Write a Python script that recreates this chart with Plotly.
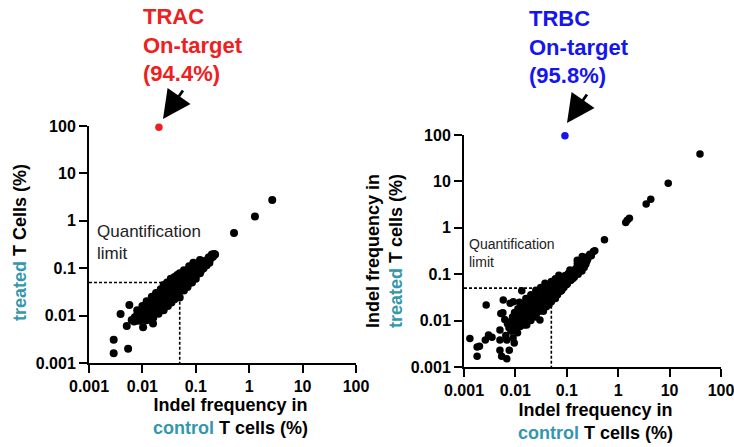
import plotly.graph_objects as go

# ---------------- data ----------------
tick_vals = [0.001, 0.01, 0.1, 1, 10, 100]
tick_text = ["0.001", "0.01", "0.1", "1", "10", "100"]

limit_x = [0.001, 0.05, 0.05]
limit_y = [0.05, 0.05, 0.001]

# TRAC (left panel): control vs treated indel frequency (%)
trac_x = [0.0029, 0.0029, 0.0054, 0.0039, 0.0057, 0.0051, 0.0103, 0.0158, 0.52, 1.28, 2.7,
          0.0063, 0.0070, 0.0072, 0.0078, 0.0080, 0.0085, 0.0088, 0.0090, 0.0095, 0.0098,
          0.0100, 0.0102, 0.0105, 0.0108, 0.0110, 0.0115, 0.0118, 0.0120, 0.0125, 0.0128,
          0.0130, 0.0135, 0.0138, 0.0140, 0.0145, 0.0148, 0.0150, 0.0155, 0.0160, 0.0162,
          0.0165, 0.0170, 0.0172, 0.0175, 0.0180, 0.0182, 0.0185, 0.0190, 0.0195, 0.0200,
          0.0202, 0.0205, 0.0210, 0.0215, 0.0220, 0.0225, 0.0230, 0.0235, 0.0240, 0.0245,
          0.0250, 0.0255, 0.0260, 0.0265, 0.0270, 0.0275, 0.0280, 0.0290, 0.0295, 0.0300,
          0.0305, 0.0310, 0.0320, 0.0325, 0.0330, 0.0340, 0.0345, 0.0355, 0.0360, 0.0370,
          0.0380, 0.0385, 0.0395, 0.0400, 0.0410, 0.0420, 0.0430, 0.0440, 0.0450, 0.0460,
          0.0470, 0.0480, 0.0490, 0.0500, 0.0520, 0.0530, 0.0545, 0.0560, 0.0575, 0.0590,
          0.0600, 0.0620, 0.0640, 0.0660, 0.0680, 0.0700, 0.0720, 0.0740, 0.0760, 0.0790,
          0.0810, 0.0840, 0.0870, 0.0900, 0.0930, 0.0960, 0.1000, 0.1030, 0.1070, 0.1100,
          0.1150, 0.1200, 0.1250, 0.1300, 0.1350, 0.1400, 0.1500, 0.1550, 0.1600, 0.1700,
          0.1750, 0.1800, 0.1900, 0.2000, 0.2100, 0.2200, 0.2300,
          0.0290, 0.0500, 0.0500, 0.1200, 0.1200, 0.0340, 0.0260, 0.0440,
          0.0120, 0.0150, 0.0180, 0.0220, 0.0250, 0.0200, 0.0250, 0.0300, 0.0350, 0.0400,
          0.0450, 0.0600, 0.0700, 0.0400, 0.0450, 0.0600, 0.0750, 0.0900, 0.0850, 0.1000,
          0.0100, 0.0080, 0.0120, 0.0160]
trac_y = [0.0031, 0.0016, 0.0020, 0.0108, 0.0168, 0.0060, 0.0057, 0.0068, 0.55, 1.23, 2.75,
          0.0081, 0.0075, 0.0092, 0.0085, 0.0105, 0.0078, 0.0098, 0.0120, 0.0090, 0.0110,
          0.0135, 0.0082, 0.0100, 0.0125, 0.0150, 0.0092, 0.0115, 0.0140, 0.0105, 0.0165,
          0.0125, 0.0095, 0.0150, 0.0115, 0.0180, 0.0135, 0.0105, 0.0160, 0.0125, 0.0200,
          0.0145, 0.0110, 0.0175, 0.0135, 0.0220, 0.0155, 0.0125, 0.0190, 0.0145, 0.0250,
          0.0170, 0.0130, 0.0210, 0.0160, 0.0280, 0.0185, 0.0145, 0.0235, 0.0175, 0.0320,
          0.0205, 0.0160, 0.0260, 0.0190, 0.0370, 0.0230, 0.0175, 0.0290, 0.0215, 0.0420,
          0.0255, 0.0195, 0.0330, 0.0240, 0.0470, 0.0285, 0.0220, 0.0380, 0.0265, 0.0520,
          0.0320, 0.0250, 0.0430, 0.0300, 0.0560, 0.0360, 0.0280, 0.0480, 0.0340, 0.0600,
          0.0400, 0.0310, 0.0520, 0.0380, 0.0650, 0.0450, 0.0360, 0.0570, 0.0430, 0.0700,
          0.0500, 0.0410, 0.0620, 0.0480, 0.0750, 0.0560, 0.0460, 0.0680, 0.0530, 0.0820,
          0.0620, 0.0520, 0.0750, 0.0600, 0.0900, 0.0700, 0.0600, 0.0830, 0.1000, 0.0780,
          0.0920, 0.1100, 0.0880, 0.1050, 0.1250, 0.1000, 0.1200, 0.1450, 0.1150, 0.1400,
          0.1700, 0.1300, 0.1600, 0.1950, 0.1750, 0.2000, 0.1950,
          0.0500, 0.0240, 0.0780, 0.1490, 0.0780, 0.0600, 0.0420, 0.0270,
          0.0200, 0.0250, 0.0300, 0.0360, 0.0440, 0.0110, 0.0130, 0.0160, 0.0190, 0.0220,
          0.0250, 0.0340, 0.0400, 0.0650, 0.0720, 0.0900, 0.1100, 0.1300, 0.0500, 0.0700,
          0.0160, 0.0130, 0.0080, 0.0090]
trac_on_x = [0.0204]
trac_on_y = [94.4]

# TRBC (right panel)
trbc_x = [0.0013, 0.0018, 0.0020, 0.0026, 0.0030, 0.0035, 0.0027, 0.0050, 0.0054, 0.0068,
          0.0076, 0.0058, 0.0057, 0.0050, 0.0050, 0.0079, 0.0133, 0.0300, 0.0091, 0.0018,
          0.0052, 0.0062, 0.0070, 0.0065, 0.0082, 0.0090, 0.0110, 0.0095, 0.0068, 0.0166,
          0.54, 1.40, 1.50, 1.65, 3.5, 4.3, 9.4, 39.0,
          0.0075, 0.0080, 0.0085, 0.0088, 0.0092, 0.0096, 0.0100, 0.0104, 0.0108, 0.0112,
          0.0115, 0.0120, 0.0124, 0.0128, 0.0132, 0.0136, 0.0140, 0.0145, 0.0150, 0.0155,
          0.0160, 0.0165, 0.0170, 0.0175, 0.0180, 0.0185, 0.0190, 0.0196, 0.0200, 0.0206,
          0.0212, 0.0218, 0.0224, 0.0230, 0.0236, 0.0242, 0.0248, 0.0255, 0.0262, 0.0270,
          0.0278, 0.0286, 0.0294, 0.0302, 0.0310, 0.0318, 0.0326, 0.0335, 0.0345, 0.0355,
          0.0365, 0.0375, 0.0385, 0.0395, 0.0405, 0.0415, 0.0425, 0.0435, 0.0448, 0.0460,
          0.0472, 0.0485, 0.0500, 0.0515, 0.0530, 0.0545, 0.0560, 0.0575, 0.0590, 0.0610,
          0.0625, 0.0640, 0.0660, 0.0680, 0.0700, 0.0720, 0.0740, 0.0760, 0.0785, 0.0810,
          0.0830, 0.0855, 0.0880, 0.0905, 0.0930, 0.0960, 0.0990, 0.1020, 0.1050, 0.1080,
          0.1110, 0.1150, 0.1190, 0.1230, 0.1270, 0.1310, 0.1360, 0.1400, 0.1450, 0.1500,
          0.1550, 0.1600, 0.1660, 0.1720, 0.1780, 0.1840, 0.1900, 0.1970, 0.2040, 0.2110,
          0.2180, 0.2250, 0.2350, 0.2450, 0.2550, 0.2600, 0.2100, 0.1600, 0.3300, 0.3500,
          0.0377, 0.1150,
          0.0120, 0.0160, 0.0200, 0.0250, 0.0150, 0.0200, 0.0250, 0.0350, 0.0400, 0.0450,
          0.0600, 0.0500, 0.0600, 0.0700, 0.0800, 0.1000, 0.1300, 0.1600, 0.2000, 0.2800,
          0.3000]
trbc_y = [0.0041, 0.0017, 0.0028, 0.0038, 0.0049, 0.0044, 0.0217, 0.0023, 0.0017, 0.0015,
          0.0023, 0.0278, 0.0148, 0.0063, 0.0038, 0.0236, 0.0440, 0.0103, 0.0255, 0.0027,
          0.0143, 0.0105, 0.0085, 0.0048, 0.0060, 0.0042, 0.0055, 0.0033, 0.0038, 0.0080,
          0.55, 1.30, 1.45, 1.60, 3.26, 4.1, 9.1, 39.0,
          0.0070, 0.0095, 0.0060, 0.0120, 0.0080, 0.0150, 0.0100, 0.0070, 0.0130, 0.0180,
          0.0090, 0.0115, 0.0075, 0.0150, 0.0210, 0.0100, 0.0130, 0.0085, 0.0170, 0.0240,
          0.0115, 0.0145, 0.0095, 0.0195, 0.0270, 0.0130, 0.0165, 0.0110, 0.0220, 0.0300,
          0.0150, 0.0185, 0.0125, 0.0250, 0.0340, 0.0170, 0.0210, 0.0140, 0.0280, 0.0380,
          0.0195, 0.0235, 0.0160, 0.0310, 0.0520, 0.0225, 0.0265, 0.0180, 0.0350, 0.0460,
          0.0255, 0.0300, 0.0205, 0.0390, 0.0530, 0.0290, 0.0340, 0.0230, 0.0440, 0.0580,
          0.0330, 0.0380, 0.0255, 0.0490, 0.0640, 0.0370, 0.0430, 0.0300, 0.0550, 0.0700,
          0.0420, 0.0490, 0.0360, 0.0610, 0.0770, 0.0480, 0.0560, 0.0430, 0.0680, 0.0850,
          0.0560, 0.0640, 0.0520, 0.0760, 0.0940, 0.0650, 0.0740, 0.0620, 0.0860, 0.1050,
          0.0760, 0.0860, 0.0730, 0.0980, 0.1180, 0.0880, 0.1000, 0.0860, 0.1120, 0.1320,
          0.1020, 0.1150, 0.1000, 0.1280, 0.1500, 0.1200, 0.1320, 0.1170, 0.1480, 0.1700,
          0.1400, 0.1550, 0.1650, 0.1900, 0.2100, 0.2400, 0.2200, 0.1700, 0.3100, 0.3200,
          0.0640, 0.1230,
          0.0250, 0.0300, 0.0360, 0.0450, 0.0080, 0.0100, 0.0120, 0.0160, 0.0200, 0.0220,
          0.0300, 0.0700, 0.0800, 0.0950, 0.0450, 0.0600, 0.0800, 0.2000, 0.2400, 0.2700,
          0.2500]
trbc_on_x = [0.092]
trbc_on_y = [95.8]

# ---------------- styling ----------------
FONT = "Liberation Sans, Arial, sans-serif"
TEAL = "#3497ad"
RED = "#ee2020"
BLUE = "#1515f0"
W, H = 734, 447


def px(x):
    return x / W


def py(y):
    return 1 - y / H


fig = go.Figure()

for xa, ya, xs, ys, ox, oy, oc, ms in [
    ("x", "y", trac_x, trac_y, trac_on_x, trac_on_y, RED, 8),
    ("x2", "y2", trbc_x, trbc_y, trbc_on_x, trbc_on_y, BLUE, 7.5),
]:
    fig.add_trace(go.Scatter(x=limit_x, y=limit_y, mode="lines", xaxis=xa, yaxis=ya,
                             line=dict(color="black", width=1.6, dash="3px,2px"),
                             hoverinfo="skip"))
    fig.add_trace(go.Scatter(x=xs, y=ys, mode="markers", xaxis=xa, yaxis=ya,
                             marker=dict(color="black", size=ms, line=dict(width=0))))
    fig.add_trace(go.Scatter(x=ox, y=oy, mode="markers", xaxis=xa, yaxis=ya,
                             marker=dict(color=oc, size=7.5, line=dict(width=0)),
                             cliponaxis=False))

axis_common = dict(
    type="log", range=[-3, 2], showline=True, linecolor="black", linewidth=2,
    ticks="outside", ticklen=8, tickwidth=2, tickcolor="black", automargin=False,
    showgrid=False, zeroline=False, tickvals=tick_vals, ticktext=tick_text,
    ticklabeloverflow="allow",
    tickfont=dict(family=FONT, size=16, color="black", weight="bold"),
)

fig.update_layout(
    template="none",
    width=W, height=H, margin=dict(l=0, r=0, t=0, b=0, pad=0, autoexpand=False),
    paper_bgcolor="white", plot_bgcolor="white", showlegend=False,
    xaxis=dict(axis_common, domain=[px(89), px(356)], anchor="y"),
    yaxis=dict(axis_common, domain=[py(363), py(126)], anchor="x"),
    xaxis2=dict(axis_common, domain=[px(464), px(721)], anchor="y2"),
    yaxis2=dict(axis_common, domain=[py(367), py(135)], anchor="x2"),
)

ann = []
# titles
ann.append(dict(x=px(141), y=py(2), xref="paper", yref="paper", xanchor="left", yanchor="top",
                align="left", showarrow=False,
                text="<b>TRAC<br>On-target<br>(94.4%)</b>",
                font=dict(family=FONT, size=22, color=RED)))
ann.append(dict(x=px(527), y=py(4), xref="paper", yref="paper", xanchor="left", yanchor="top",
                align="left", showarrow=False,
                text="<b>TRBC<br>On-target<br>(95.8%)</b>",
                font=dict(family=FONT, size=22, color=BLUE)))
# arrows
ann.append(dict(x=px(163), y=py(119), xref="paper", yref="paper", text="", showarrow=True,
                ax=21, ay=-30, arrowhead=2, arrowsize=2.0, arrowwidth=2.8, arrowcolor="black"))
ann.append(dict(x=px(567), y=py(123), xref="paper", yref="paper", text="", showarrow=True,
                ax=21, ay=-30, arrowhead=2, arrowsize=2.0, arrowwidth=2.8, arrowcolor="black"))
# quantification limit labels
ann.append(dict(x=px(95), y=py(220), xref="paper", yref="paper", xanchor="left", yanchor="top",
                align="left", showarrow=False, text="Quantification<br>limit",
                font=dict(family=FONT, size=17, color="#222222")))
ann.append(dict(x=px(467), y=py(234), xref="paper", yref="paper", xanchor="left", yanchor="top",
                align="left", showarrow=False, text="Quantification<br>limit",
                font=dict(family=FONT, size=14, color="#222222")))
# x-axis titles
xt = "<b>Indel frequency in<br><span style='color:%s'>control</span> T cells (%%)</b>" % TEAL
ann.append(dict(x=px(230), y=py(416), xref="paper", yref="paper", xanchor="center",
                yanchor="middle", showarrow=False, text=xt,
                font=dict(family=FONT, size=18, color="black")))
ann.append(dict(x=px(595), y=py(421), xref="paper", yref="paper", xanchor="center",
                yanchor="middle", showarrow=False, text=xt,
                font=dict(family=FONT, size=18, color="black")))
# y-axis titles
ann.append(dict(x=px(20), y=py(243), xref="paper", yref="paper", xanchor="center",
                yanchor="middle", showarrow=False, textangle=-90,
                text="<b><span style='color:%s'>treated</span> T Cells (%%)</b>" % TEAL,
                font=dict(family=FONT, size=18, color="black")))
ann.append(dict(x=px(384), y=py(251), xref="paper", yref="paper", xanchor="center",
                yanchor="middle", showarrow=False, textangle=-90,
                text="<b>Indel frequency in<br><span style='color:%s'>treated</span> T cells (%%)</b>" % TEAL,
                font=dict(family=FONT, size=18, color="black")))

fig.update_layout(annotations=ann)

fig.write_html("out.html", config={"displayModeBar": False},
               post_script="document.body.style.margin='0';document.body.style.overflow='hidden';")
